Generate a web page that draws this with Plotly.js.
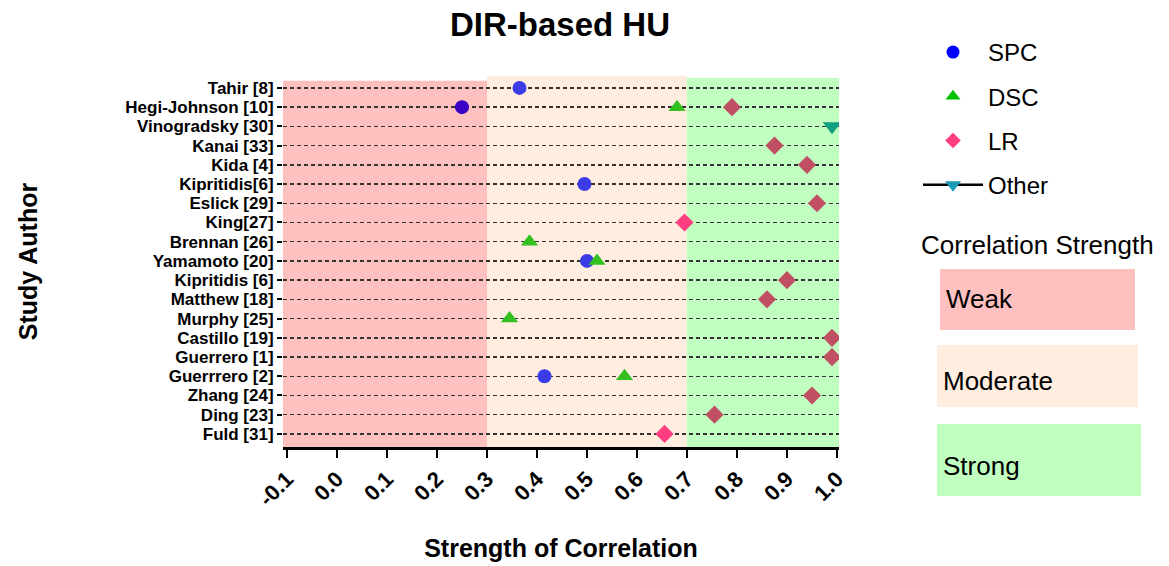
<!DOCTYPE html>
<html>
<head>
<meta charset="utf-8">
<script src="https://cdn.plot.ly/plotly-3.0.1.min.js"></script>
<style>html,body{margin:0;padding:0;background:#fff;}#chart{width:1169px;height:566px;}</style>
</head>
<body>
<div id="chart"></div>
<script>
// ---- data ----
const studies = ['Tahir [8]','Hegi-Johnson [10]','Vinogradsky [30]','Kanai [33]','Kida [4]','Kipritidis[6]','Eslick [29]','King[27]','Brennan [26]','Yamamoto [20]','Kipritidis [6]','Matthew [18]','Murphy [25]','Castillo [19]','Guerrero [1]','Guerrrero [2]','Zhang [24]','Ding [23]','Fuld [31]'];

const spcStudies = ['Tahir [8]','Hegi-Johnson [10]','Kipritidis[6]','Yamamoto [20]','Guerrrero [2]'];
const spcValues  = [0.365, 0.25, 0.495, 0.50, 0.415];

const dscStudies = ['Hegi-Johnson [10]','Brennan [26]','Yamamoto [20]','Murphy [25]','Guerrrero [2]'];
const dscValues  = [0.68, 0.385, 0.52, 0.345, 0.575];

const lrStudies = ['Hegi-Johnson [10]','Kanai [33]','Kida [4]','Eslick [29]','King[27]','Kipritidis [6]','Matthew [18]','Castillo [19]','Guerrero [1]','Zhang [24]','Ding [23]','Fuld [31]'];
const lrValues  = [0.79, 0.875, 0.94, 0.96, 0.695, 0.90, 0.86, 0.99, 0.99, 0.95, 0.755, 0.655];

const otherStudies = ['Vinogradsky [30]'];
const otherValues  = [0.99];

const xTickVals = [-0.1,0,0.1,0.2,0.3,0.4,0.5,0.6,0.7,0.8,0.9,1.0];
const xTickText = ['-0.1','0.0','0.1','0.2','0.3','0.4','0.5','0.6','0.7','0.8','0.9','1.0'];

const bands = [
  {name:'Weak', x0:-0.108, x1:0.3, color:'#ffc0c0'},
  {name:'Moderate', x0:0.3, x1:0.7, color:'#ffeedf'},
  {name:'Strong', x0:0.7, x1:1.004, color:'#c0ffc0'}
];

// ---- styling helpers ----
const FONT = 'Liberation Sans, Arial, sans-serif';
function tint(v, weak, mod, strong){ return v < 0.3 ? weak : (v < 0.7 ? mod : strong); }

const L = 283, R = 839, T = 76, B = 447;
const px = x => (x - L) / (R - L);
const py = y => (B - y) / (B - T);

const traces = [
  {type:'scatter', mode:'markers', x:spcValues, y:spcStudies, showlegend:false,
   marker:{symbol:'circle', size:14, color:spcValues.map(v=>tint(v,'#3a00c4','#3c3ce6','#2a50a0'))}},
  {type:'scatter', mode:'markers', x:dscValues, y:dscStudies, showlegend:false,
   marker:{symbol:'triangle-up', size:15, color:dscValues.map(v=>tint(v,'#308000','#33c020','#20b020'))}},
  {type:'scatter', mode:'markers', x:lrValues, y:lrStudies, showlegend:false,
   marker:{symbol:'diamond', size:14, color:lrValues.map(v=>tint(v,'#c02050','#ff3d80','#c04f64'))}},
  {type:'scatter', mode:'markers', x:otherValues, y:otherStudies, showlegend:false,
   marker:{symbol:'triangle-down', size:16, color:otherValues.map(v=>tint(v,'#1a6a80','#1a9ab5','#10a080'))}},
  // legend entries
  {type:'scatter', mode:'markers', x:[null], y:[null], name:'SPC', legendgroup:'a',
   marker:{symbol:'circle', size:13, color:'#0000ff'}},
  {type:'scatter', mode:'markers', x:[null], y:[null], name:'DSC', legendgroup:'b',
   marker:{symbol:'triangle-up', size:13, color:'#00c000'}},
  {type:'scatter', mode:'markers', x:[null], y:[null], name:'LR', legendgroup:'c',
   marker:{symbol:'diamond', size:12, color:'#ff3d80'}},
  {type:'scatter', mode:'lines+markers', x:[null], y:[null], name:'Other', legendgroup:'d',
   line:{color:'#000', width:2.5}, marker:{symbol:'triangle-down', size:14, color:'#1a9ab5'}}
];

const shapes = bands.map((b,i) => ({
  type:'rect', layer:'below', xref:'x', yref:'paper',
  x0:b.x0, x1:b.x1, y0:0, y1:[py(80.7), 1, py(78)][i],
  fillcolor:b.color, line:{width:0}
}));

const boxPx = [
  {x0:940, x1:1135, y0:269, y1:330, ty:299},
  {x0:937, x1:1138, y0:345, y1:407, ty:381},
  {x0:937, x1:1141, y0:424, y1:496, ty:466}
];
const annotations = [
  {text:'Correlation Strength', xref:'paper', yref:'paper', x:px(919), y:py(245),
   xanchor:'left', yanchor:'middle', showarrow:false, font:{family:FONT, size:26, color:'#000'}}
];
boxPx.forEach((b,i) => {
  shapes.push({type:'rect', layer:'above', xref:'paper', yref:'paper',
    x0:px(b.x0), x1:px(b.x1), y0:py(b.y1), y1:py(b.y0),
    fillcolor:bands[i].color, line:{width:0}});
  annotations.push({text:bands[i].name, xref:'paper', yref:'paper', x:px(b.x0+4), y:py(b.ty),
    xanchor:'left', yanchor:'middle', showarrow:false, font:{family:FONT, size:26, color:'#000'}});
});

const layout = {
  width:1169, height:566,
  margin:{l:L, r:1169-R, t:T, b:566-B},
  paper_bgcolor:'#fff', plot_bgcolor:'#fff',
  font:{family:FONT, color:'#000'},
  title:{text:'<b>DIR-based HU</b>', font:{family:FONT, size:33, color:'#000'},
         x:px(560), xref:'paper', xanchor:'center', y:1-24/566, yanchor:'middle'},
  xaxis:{range:[-0.108, 1.004], tickmode:'array', tickvals:xTickVals, ticktext:xTickText, tickangle:-45,
         tickfont:{family:FONT, size:22, color:'#000', weight:'bold'},
         showgrid:false, zeroline:false, showline:true, linecolor:'#000', linewidth:2.5,
         ticks:'outside', ticklen:8, tickwidth:2, tickcolor:'#000',
         title:{text:'<b>Strength of Correlation</b>', font:{family:FONT, size:25, color:'#000'}, standoff:30}},
  yaxis:{type:'category', categoryorder:'array', categoryarray:studies, range:[18.68, -0.62],
         tickmode:'array', tickvals:studies, ticktext:studies,
         tickfont:{family:FONT, size:17, color:'#000', weight:'bold'},
         showgrid:true, gridcolor:'#333', gridwidth:1.5, griddash:'4px,3px',
         zeroline:false, showline:false, ticks:'outside', ticklen:5, tickwidth:2, tickcolor:'#000',
         title:{text:'<b>Study Author</b>', font:{family:FONT, size:25, color:'#000'}, standoff:80}},
  legend:{x:px(918), y:py(30), xanchor:'left', yanchor:'top', font:{family:FONT, size:24, color:'#000'},
          tracegroupgap:10, itemwidth:60, bgcolor:'rgba(0,0,0,0)'},
  shapes:shapes,
  annotations:annotations
};

Plotly.newPlot('chart', traces, layout, {displayModeBar:false, staticPlot:true});
</script>
</body>
</html>
